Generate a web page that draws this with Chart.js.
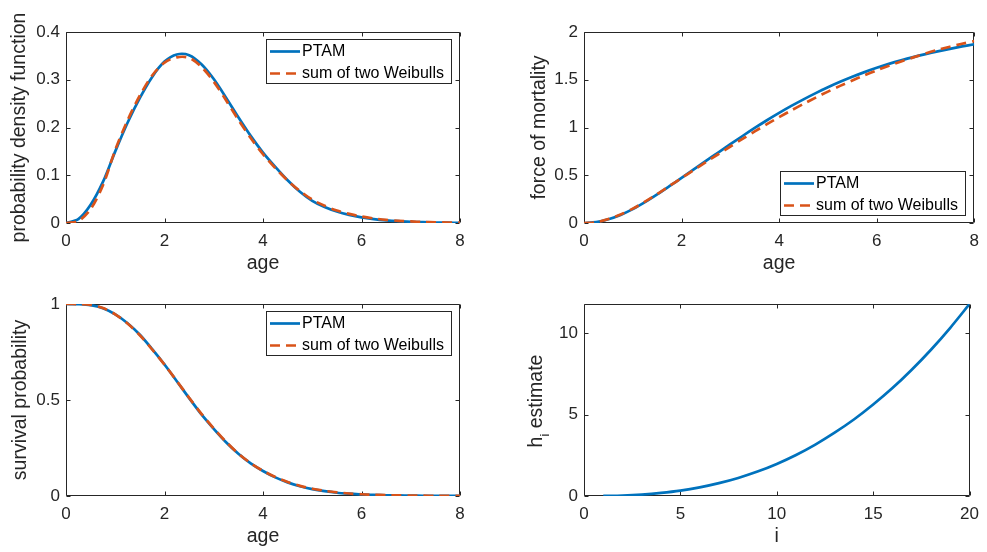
<!DOCTYPE html>
<html>
<head>
<meta charset="utf-8">
<script src="https://cdn.jsdelivr.net/npm/chart.js@4.4.1/dist/chart.umd.min.js"></script>
<style>
  html, body { margin: 0; padding: 0; background: #fff; }
  body { width: 987px; height: 552px; position: relative; overflow: hidden; }
  canvas { position: absolute; }
</style>
</head>
<body>
<canvas id="pdfChart" width="493" height="280" style="left:0;top:0"></canvas>
<canvas id="hazardChart" width="494" height="280" style="left:493px;top:0"></canvas>
<canvas id="survChart" width="493" height="272" style="left:0;top:280px"></canvas>
<canvas id="hChart" width="494" height="272" style="left:493px;top:280px"></canvas>
<script>
// ages shared by the three age panels
const ages = [0, 0.25, 0.5, 0.75, 1, 1.25, 1.5, 1.75, 2, 2.25, 2.5, 2.75, 3, 3.25, 3.5, 3.75,
  4, 4.25, 4.5, 4.75, 5, 5.25, 5.5, 5.75, 6, 6.25, 6.5, 6.75, 7, 7.25, 7.5, 7.75, 8];

// probability density function
const pdfPTAM = [0, 0.008, 0.038, 0.086, 0.150, 0.210, 0.262, 0.306, 0.338, 0.353, 0.3515, 0.3325,
  0.3015, 0.2625, 0.2215, 0.1825, 0.1475, 0.1175, 0.0895, 0.0655, 0.0465, 0.0335, 0.024, 0.017,
  0.0118, 0.0082, 0.0056, 0.0038, 0.0026, 0.0017, 0.0011, 0.0007, 0.0004];
const pdfWeibull = [0, 0.004, 0.029, 0.079, 0.153, 0.215, 0.267, 0.309, 0.336, 0.347, 0.346, 0.327,
  0.296, 0.257, 0.216, 0.178, 0.144, 0.115, 0.089, 0.067, 0.049, 0.036, 0.026, 0.019, 0.0135,
  0.0095, 0.0066, 0.0046, 0.0032, 0.0022, 0.0015, 0.001, 0.0007];

// force of mortality
const hazPTAM = [0, 0.01, 0.04, 0.085, 0.145, 0.218, 0.299, 0.385, 0.473, 0.562, 0.650, 0.738,
  0.825, 0.911, 0.995, 1.076, 1.153, 1.226, 1.295, 1.360, 1.421, 1.478, 1.531, 1.580, 1.625,
  1.666, 1.703, 1.737, 1.768, 1.797, 1.824, 1.849, 1.872];
const hazWeibull = [0, 0.008, 0.041, 0.089, 0.150, 0.223, 0.303, 0.387, 0.471, 0.555, 0.638, 0.720,
  0.801, 0.881, 0.959, 1.035, 1.108, 1.179, 1.247, 1.313, 1.376, 1.436, 1.493, 1.547, 1.598,
  1.646, 1.691, 1.734, 1.775, 1.813, 1.846, 1.877, 1.905];

// survival probability
const survPTAM = [1, 0.999, 0.994, 0.978, 0.946, 0.900, 0.840, 0.765, 0.685, 0.598, 0.510, 0.425,
  0.350, 0.280, 0.220, 0.170, 0.130, 0.097, 0.071, 0.051, 0.036, 0.025, 0.017, 0.012, 0.008,
  0.006, 0.004, 0.003, 0.002, 0.0014, 0.001, 0.0007, 0.0005];
const survWeibull = [1, 0.9995, 0.995, 0.979, 0.946, 0.898, 0.837, 0.763, 0.684, 0.599, 0.512,
  0.428, 0.352, 0.282, 0.221, 0.171, 0.131, 0.099, 0.073, 0.053, 0.038, 0.027, 0.019, 0.013,
  0.009, 0.0065, 0.0045, 0.003, 0.0021, 0.0015, 0.001, 0.0007, 0.0005];

// h_i estimate
const idx = [1, 2, 3, 4, 5, 6, 7, 8, 9, 10, 11, 12, 13, 14, 15, 16, 17, 18, 19, 20];
const hEst = [0.005, 0.03, 0.09, 0.19, 0.33, 0.53, 0.79, 1.11, 1.50, 1.97, 2.52, 3.16, 3.89,
  4.70, 5.62, 6.63, 7.76, 8.99, 10.34, 11.8];

// tick labels
const ageTicks = [0, 2, 4, 6, 8];
const pdfTicks = [0, 0.1, 0.2, 0.3, 0.4];
const hazTicks = [0, 0.5, 1, 1.5, 2];
const survTicks = [0, 0.5, 1];
const idxTicks = [0, 5, 10, 15, 20];
const hTicks = [0, 5, 10];

const FONT = "'Liberation Sans', Arial, Helvetica, sans-serif";
const AXIS_COLOR = "#262626";
const BLUE = "#0072BD";
const ORANGE = "#D95319";

function pts(xs, ys) {
  return xs.map((x, i) => ({ x: x, y: ys[i] }));
}

// box round the axes with inward ticks on all four sides, like matlab
const matlabAxes = {
  id: "matlabAxes",
  beforeDatasetsDraw(chart) {
    const { ctx, chartArea: a, scales } = chart;
    const L = Math.round(a.left) + 0.5, R = Math.round(a.right) - 0.5;
    const T = Math.round(a.top) + 0.5, B = Math.round(a.bottom) - 0.5;
    ctx.save();
    ctx.strokeStyle = AXIS_COLOR;
    ctx.lineWidth = 1;
    ctx.beginPath();
    ctx.rect(L, T, R - L, B - T);
    scales.x.ticks.forEach(function (t) {
      const px = Math.round(scales.x.getPixelForValue(t.value)) + 0.5;
      ctx.moveTo(px, B); ctx.lineTo(px, B - 4);
      ctx.moveTo(px, T); ctx.lineTo(px, T + 4);
    });
    scales.y.ticks.forEach(function (t) {
      const py = Math.round(scales.y.getPixelForValue(t.value)) + 0.5;
      ctx.moveTo(L, py); ctx.lineTo(L + 4, py);
      ctx.moveTo(R, py); ctx.lineTo(R - 4, py);
    });
    ctx.stroke();
    ctx.restore();
  },
  afterDraw(chart, args, opts) {
    const { ctx, chartArea: a } = chart;
    ctx.save();
    if (opts.legend) {
      const w = 185, h = 44;
      const x = Math.round(a.right) - 9 - w;
      const y = opts.legend === "br" ? Math.round(a.bottom) - 8 - h : Math.round(a.top) + 7;
      ctx.fillStyle = "#fff";
      ctx.fillRect(x, y, w, h);
      ctx.strokeStyle = AXIS_COLOR;
      ctx.lineWidth = 1;
      ctx.strokeRect(x + 0.5, y + 0.5, w, h);
      ctx.font = "16px " + FONT;
      ctx.textBaseline = "middle";
      ctx.textAlign = "left";
      chart.data.datasets.forEach(function (ds, i) {
        const ry = y + 12.5 + i * 22;
        ctx.strokeStyle = ds.borderColor;
        ctx.lineWidth = ds.borderWidth;
        ctx.setLineDash(ds.borderDash || []);
        ctx.beginPath();
        ctx.moveTo(x + 4, ry);
        ctx.lineTo(x + 34, ry);
        ctx.stroke();
        ctx.setLineDash([]);
        ctx.fillStyle = "#000";
        ctx.fillText(ds.label, x + 36, ry + 0.5);
      });
    }
    // y title with a subscript (h_i estimate)
    if (opts.subTitle) {
      const s = opts.subTitle;
      const big = "19.5px " + FONT, small = "13px " + FONT;
      ctx.font = big;
      const w1 = ctx.measureText(s.main).width;
      const w3 = ctx.measureText(s.rest).width;
      ctx.font = small;
      const w2 = ctx.measureText(s.sub).width;
      const cy = (a.top + a.bottom) / 2 + 1;
      ctx.translate(s.x, cy);
      ctx.rotate(-Math.PI / 2);
      ctx.fillStyle = AXIS_COLOR;
      ctx.textBaseline = "alphabetic";
      ctx.textAlign = "left";
      let sx = -(w1 + w2 + w3) / 2;
      ctx.font = big; ctx.fillText(s.main, sx, 0); sx += w1;
      ctx.font = small; ctx.fillText(s.sub, sx, 7); sx += w2;
      ctx.font = big; ctx.fillText(s.rest, sx, 0);
    }
    ctx.restore();
  },
};

function panel(canvasId, o) {
  return new Chart(document.getElementById(canvasId), {
    type: "line",
    data: { datasets: o.datasets },
    options: {
      responsive: false,
      animation: false,
      devicePixelRatio: 1,
      layout: { padding: o.padding },
      elements: { point: { radius: 0 }, line: { tension: 0.3 } },
      plugins: {
        legend: { display: false },
        tooltip: { enabled: false },
        matlabAxes: o.extra || {},
      },
      scales: {
        x: {
          type: "linear",
          min: o.xMin,
          max: o.xMax,
          grid: { display: false, drawTicks: false },
          border: { display: false },
          ticks: {
            autoSkip: false, maxRotation: 0, padding: 8, color: AXIS_COLOR,
            font: { family: FONT, size: 17 },
            callback: (v) => String(v),
          },
          title: {
            display: true, text: o.xTitle, color: AXIS_COLOR,
            font: { family: FONT, size: 19.5 },
            padding: { top: 0, bottom: o.xTitlePad },
          },
          afterBuildTicks: (s) => { s.ticks = o.xTicks.map((v) => ({ value: v })); },
          afterFit: (s) => { s.height = o.xHeight; },
        },
        y: {
          type: "linear",
          min: o.yMin,
          max: o.yMax,
          grid: { display: false, drawTicks: false },
          border: { display: false },
          ticks: {
            autoSkip: false, padding: 6, color: AXIS_COLOR,
            font: { family: FONT, size: 17 },
            callback: (v) => String(v),
          },
          title: {
            display: !!o.yTitle, text: o.yTitle || "", color: AXIS_COLOR,
            font: { family: FONT, size: 19.5 },
            padding: { top: o.yTitlePad, bottom: 0 },
          },
          afterBuildTicks: (s) => { s.ticks = o.yTicks.map((v) => ({ value: v })); },
          afterFit: (s) => { s.width = o.yWidth; },
        },
      },
    },
    plugins: [matlabAxes],
  });
}

function ptamSet(ys) {
  return { label: "PTAM", data: pts(ages, ys), borderColor: BLUE, borderWidth: 2.7, order: 1, fill: false };
}
function weibullSet(ys) {
  return {
    label: "sum of two Weibulls", data: pts(ages, ys), borderColor: ORANGE, borderWidth: 2.7,
    borderDash: [10, 6], order: 0, fill: false,
  };
}

/* ===== probability density ===== */
panel("pdfChart", {
  datasets: [ptamSet(pdfPTAM), weibullSet(pdfWeibull)],
  padding: { left: 0, top: 32, right: 33, bottom: 0 },
  xMin: 0, xMax: 8, xTicks: ageTicks, xTitle: "age", xHeight: 57, xTitlePad: 5,
  yMin: 0, yMax: 0.4, yTicks: pdfTicks, yTitle: "probability density function", yWidth: 66, yTitlePad: 7.5,
  extra: { legend: "tr" },
});

/* ===== force of mortality ===== */
panel("hazardChart", {
  datasets: [ptamSet(hazPTAM), weibullSet(hazWeibull)],
  padding: { left: 24, top: 32, right: 9, bottom: 0 },
  xMin: 0, xMax: 8, xTicks: ageTicks, xTitle: "age", xHeight: 57, xTitlePad: 5,
  yMin: 0, yMax: 2, yTicks: hazTicks, yTitle: "force of mortality", yWidth: 67, yTitlePad: 10.5,
  extra: { legend: "br" },
});

/* ===== survival ===== */
panel("survChart", {
  datasets: [ptamSet(survPTAM), weibullSet(survWeibull)],
  padding: { left: 0, top: 24, right: 33, bottom: 0 },
  xMin: 0, xMax: 8, xTicks: ageTicks, xTitle: "age", xHeight: 56, xTitlePad: 4,
  yMin: 0, yMax: 1, yTicks: survTicks, yTitle: "survival probability", yWidth: 66, yTitlePad: 9,
  extra: { legend: "tr" },
});

/* ===== h_i estimate ===== */
panel("hChart", {
  datasets: [{ label: "h", data: pts(idx, hEst), borderColor: BLUE, borderWidth: 2.7, fill: false }],
  padding: { left: 24, top: 24, right: 9, bottom: 0 },
  xMin: 0, xMax: 20, xTicks: idxTicks, xTitle: "i", xHeight: 56, xTitlePad: 4,
  yMin: 0, yMax: 11.8, yTicks: hTicks, yTitle: "", yWidth: 67, yTitlePad: 0,
  extra: { subTitle: { main: "h", sub: "i", rest: " estimate", x: 48.7 } },
});
</script>
</body>
</html>
